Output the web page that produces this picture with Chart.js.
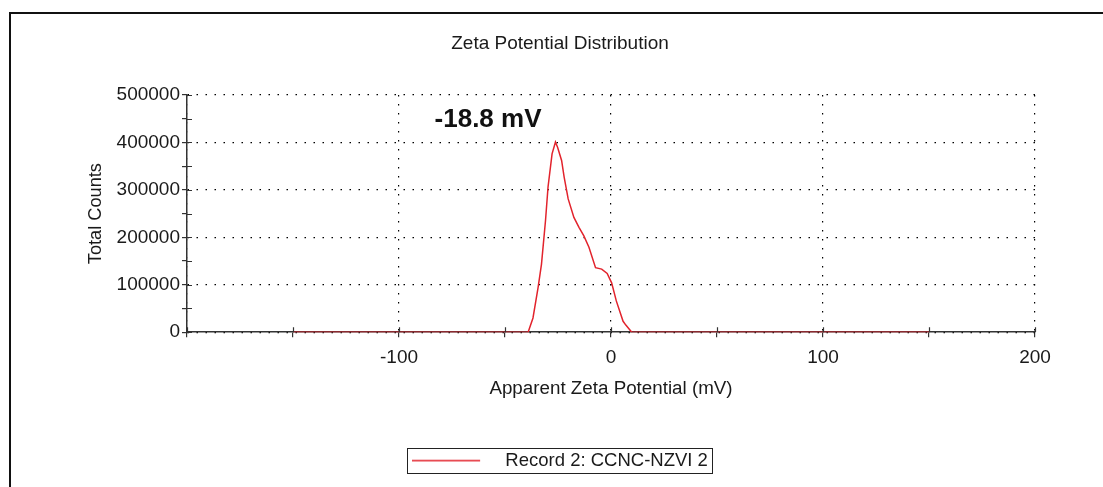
<!DOCTYPE html>
<html>
<head>
<meta charset="utf-8">
<script src="https://cdn.jsdelivr.net/npm/chart.js@4.4.1/dist/chart.umd.min.js"></script>
<style>
html,body{margin:0;padding:0;background:#fff;overflow:hidden;}
#frame{position:absolute;left:9px;top:12px;width:1200px;height:600px;border:2px solid #111;}
#zetaChart{position:absolute;left:0;top:0;}
</style>
</head>
<body>
<div id="frame"></div>
<canvas id="zetaChart" width="1103" height="487"></canvas>
<script>
// values
const potential=[-150,-39.1,-36.8,-34.4,-32.8,-30.9,-29.7,-27.8,-26.2,-25.2,-23.3,-22.1,-20.2,-17.5,-15.1,-12.8,-10.4,-7.3,-4.4,-1.8,0.3,2.5,5.7,7.0,9.8,150];
const counts=[0,0,30000,94000,143000,235000,306000,376000,401000,390000,362000,327000,281000,242000,221000,203000,179000,136000,133000,124000,104000,66000,23000,15000,0,0];
const seriesName="Record 2: CCNC-NZVI 2";
const chartTitle="Zeta Potential Distribution";
const xTitle="Apparent Zeta Potential (mV)";
const yTitle="Total Counts";
const peakLabel="-18.8 mV";
const peakLabelAt=[-58,447000];

const font="'Liberation Sans', Arial, sans-serif";
const textColor="#1a1a1a";
const red="#e2232c";

// legend sample: short red line inside a wider box
const sample=document.createElement("canvas");
sample.width=84;sample.height=3;
let sctx=sample.getContext("2d");
sctx.strokeStyle=red;sctx.lineWidth=1.5;
sctx.beginPath();sctx.moveTo(0,1.5);sctx.lineTo(68,1.5);sctx.stroke();

const crossTicks={
    id:"crossTicks",
    afterDraw:function(chart){
        let ctx=chart.ctx, a=chart.chartArea, sx=chart.scales.x, sy=chart.scales.y;
        ctx.save();
        ctx.strokeStyle="#333";ctx.lineWidth=1.2;
        ctx.beginPath();
        sx.ticks.forEach(t=>{
            let px=Math.round(sx.getPixelForValue(t.value))+0.5;
            ctx.moveTo(px,a.bottom);ctx.lineTo(px,a.bottom-5);
        });
        sy.ticks.forEach(t=>{
            let py=Math.round(sy.getPixelForValue(t.value))+0.5;
            ctx.moveTo(a.left,py);ctx.lineTo(a.left+5,py);
        });
        ctx.stroke();
        ctx.restore();
    }
};

const legendFrame={
    id:"legendFrame",
    afterDraw:function(chart){
        let box=chart.legend.legendHitBoxes[0];
        if(!box)return;
        let ctx=chart.ctx;
        let cy=box.top+box.height/2;
        ctx.save();
        ctx.strokeStyle="#222";ctx.lineWidth=1;
        ctx.strokeRect(Math.round(box.left-5)+0.5,Math.round(cy-12.5)+0.5,Math.round(box.width+9),25);
        ctx.restore();
    }
};

const peakText={
    id:"peakText",
    afterDatasetsDraw:function(chart){
        let ctx=chart.ctx;
        ctx.save();
        ctx.font="bold 26px "+font;
        ctx.fillStyle="#111";
        ctx.textAlign="center";ctx.textBaseline="middle";
        ctx.fillText(peakLabel,chart.scales.x.getPixelForValue(peakLabelAt[0]),chart.scales.y.getPixelForValue(peakLabelAt[1]));
        ctx.restore();
    }
};

const points=potential.map((p,i)=>({x:p,y:counts[i]}));

new Chart(document.getElementById("zetaChart"),{
    type:"line",
    data:{
        datasets:[{
            label:seriesName,
            data:points,
            borderColor:red,
            backgroundColor:red,
            borderWidth:1.5,
            pointRadius:0,
            tension:0,
            fill:false
        }]
    },
    options:{
        responsive:false,
        animation:false,
        devicePixelRatio:1,
        layout:{padding:{left:85,right:68,top:0,bottom:7}},
        plugins:{
            tooltip:{enabled:false},
            title:{
                display:true,
                text:chartTitle,
                color:textColor,
                font:{family:font,size:19,weight:"normal"},
                padding:{top:32.6,bottom:39.6}
            },
            legend:{
                position:"bottom",
                labels:{
                    usePointStyle:true,
                    pointStyle:sample,
                    pointStyleWidth:84,
                    color:textColor,
                    font:{family:font,size:18.5},
                    padding:10
                }
            }
        },
        scales:{
            x:{
                type:"linear",
                min:-200,max:200,
                afterFit:s=>{s.height=109.3;},
                title:{display:true,text:xTitle,color:textColor,font:{family:font,size:18.8},padding:{top:0,bottom:41}},
                ticks:{
                    stepSize:50,autoSkip:false,maxRotation:0,
                    color:textColor,font:{family:font,size:19},padding:9.6,
                    callback:v=>(v%100===0&&v!==-200)?String(v):""
                },
                grid:{
                    color:c=>(c.tick&&c.tick.value%100===0)?"#000":"rgba(0,0,0,0)",
                    lineWidth:1.2,
                    tickColor:"#333",tickLength:5,tickWidth:1.2
                },
                border:{color:"#333",width:1.5,dash:[1.5,7.5]}
            },
            y:{
                type:"linear",
                min:0,max:500000,
                afterFit:s=>{s.width=102;},
                title:{display:true,text:yTitle,color:textColor,font:{family:font,size:18.2},padding:0},
                ticks:{
                    stepSize:50000,autoSkip:false,
                    color:textColor,font:{family:font,size:19},padding:2,
                    callback:v=>(v%100000===0)?String(v):""
                },
                grid:{
                    color:c=>(c.tick&&c.tick.value%100000===0)?"#000":"rgba(0,0,0,0)",
                    lineWidth:1.2,
                    tickColor:"#333",tickLength:5,tickWidth:1.2
                },
                border:{color:"#333",width:1.5,dash:[1.5,7.5]}
            }
        }
    },
    plugins:[crossTicks,legendFrame,peakText]
});
</script>
</body>
</html>
